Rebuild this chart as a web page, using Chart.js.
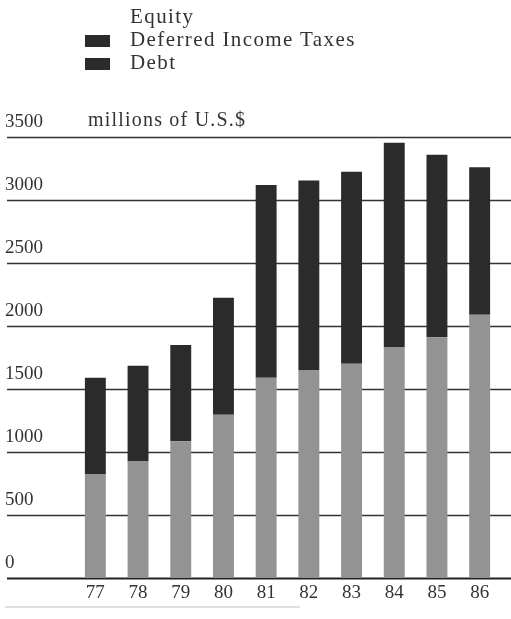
<!DOCTYPE html>
<html>
<head>
<meta charset="utf-8">
<script src="https://cdn.jsdelivr.net/npm/chart.js@4"></script>
<style>
  body { margin: 0; background: #fff; }
  #wrap { position: relative; width: 511px; height: 619px; }
  #legend { position: absolute; left: 85px; top: 5px; font-family: "Liberation Serif", serif; font-size: 21px; letter-spacing: 1.4px; color: #333; }
  #legend div { height: 23px; line-height: 23px; position: relative; padding-left: 45px; white-space: nowrap; }
  #legend span { position: absolute; left: 0; top: 7px; width: 25px; height: 12px; }
</style>
</head>
<body>
<div id="wrap">
  <canvas id="capChart" width="511" height="619"></canvas>
  <div id="legend"></div>
</div>
<script>
const years = ['77', '78', '79', '80', '81', '82', '83', '84', '85', '86'];
const equity = [825, 925, 1085, 1295, 1590, 1650, 1700, 1830, 1910, 2090];
const deferredTaxes = [0, 0, 0, 0, 0, 0, 0, 0, 0, 0];
const debt = [765, 760, 765, 930, 1530, 1505, 1525, 1625, 1450, 1170];
const yTicks = [0, 500, 1000, 1500, 2000, 2500, 3000, 3500];

const FONT = '"Liberation Serif", serif';

// grid lines + left labels drawn across the full width, behind bars
const gridPlugin = {
    id: 'grid',
    beforeDatasetsDraw(chart) {
        const c = chart.ctx;
        const y = chart.scales.y;
        c.save();
        c.font = '19px ' + FONT;
        c.fillStyle = '#333';
        c.textBaseline = 'alphabetic';
        yTicks.forEach(v => {
            const py = Math.round(y.getPixelForValue(v)) + 0.5;
            c.strokeStyle = v === 0 ? '#222' : '#333';
            c.lineWidth = v === 0 ? 2 : 1.6;
            c.beginPath();
            c.moveTo(7, py);
            c.lineTo(511, py);
            c.stroke();
            c.fillText(String(v), 5, py - 11);
        });
        c.font = '20px ' + FONT;
        c.letterSpacing = '1.2px';
        c.fillText('millions of U.S.$', 88, Math.round(y.getPixelForValue(3500)) - 11);
        // faint rule under the year labels
        c.strokeStyle = '#d4d4d4';
        c.lineWidth = 1.5;
        c.beginPath();
        c.moveTo(5, 607);
        c.lineTo(300, 607);
        c.stroke();
        c.restore();
    }
};

const ctx = document.getElementById('capChart').getContext('2d');
const chart = new Chart(ctx, {
    type: 'bar',
    data: {
        labels: years,
        datasets: [
            { label: 'Equity', data: equity, backgroundColor: '#939393', swatch: 'transparent' },
            { label: 'Deferred Income Taxes', data: deferredTaxes, backgroundColor: '#2b2b2b', swatch: '#2b2b2b' },
            { label: 'Debt', data: debt, backgroundColor: '#2b2b2b', swatch: '#2b2b2b' }
        ]
    },
    options: {
        responsive: false,
        animation: false,
        categoryPercentage: 1,
        barPercentage: 0.49,
        layout: { padding: { left: 74, right: 10, top: 137, bottom: 0 } },
        plugins: { legend: { display: false }, tooltip: { enabled: false } },
        scales: {
            x: {
                stacked: true,
                grid: { display: false, drawTicks: false },
                border: { display: false },
                ticks: { color: '#333', font: { family: FONT, size: 19 }, padding: 4 },
                afterFit(scale) { scale.height = 41; }
            },
            y: {
                stacked: true,
                display: false,
                min: 0,
                max: 3500
            }
        }
    },
    plugins: [gridPlugin]
});

// legend as real text
const legendDiv = document.getElementById('legend');
chart.data.datasets.forEach(ds => {
    const row = document.createElement('div');
    row.innerHTML = `<span style="background:${ds.swatch}"></span>${ds.label}`;
    legendDiv.appendChild(row);
});
</script>
</body>
</html>
